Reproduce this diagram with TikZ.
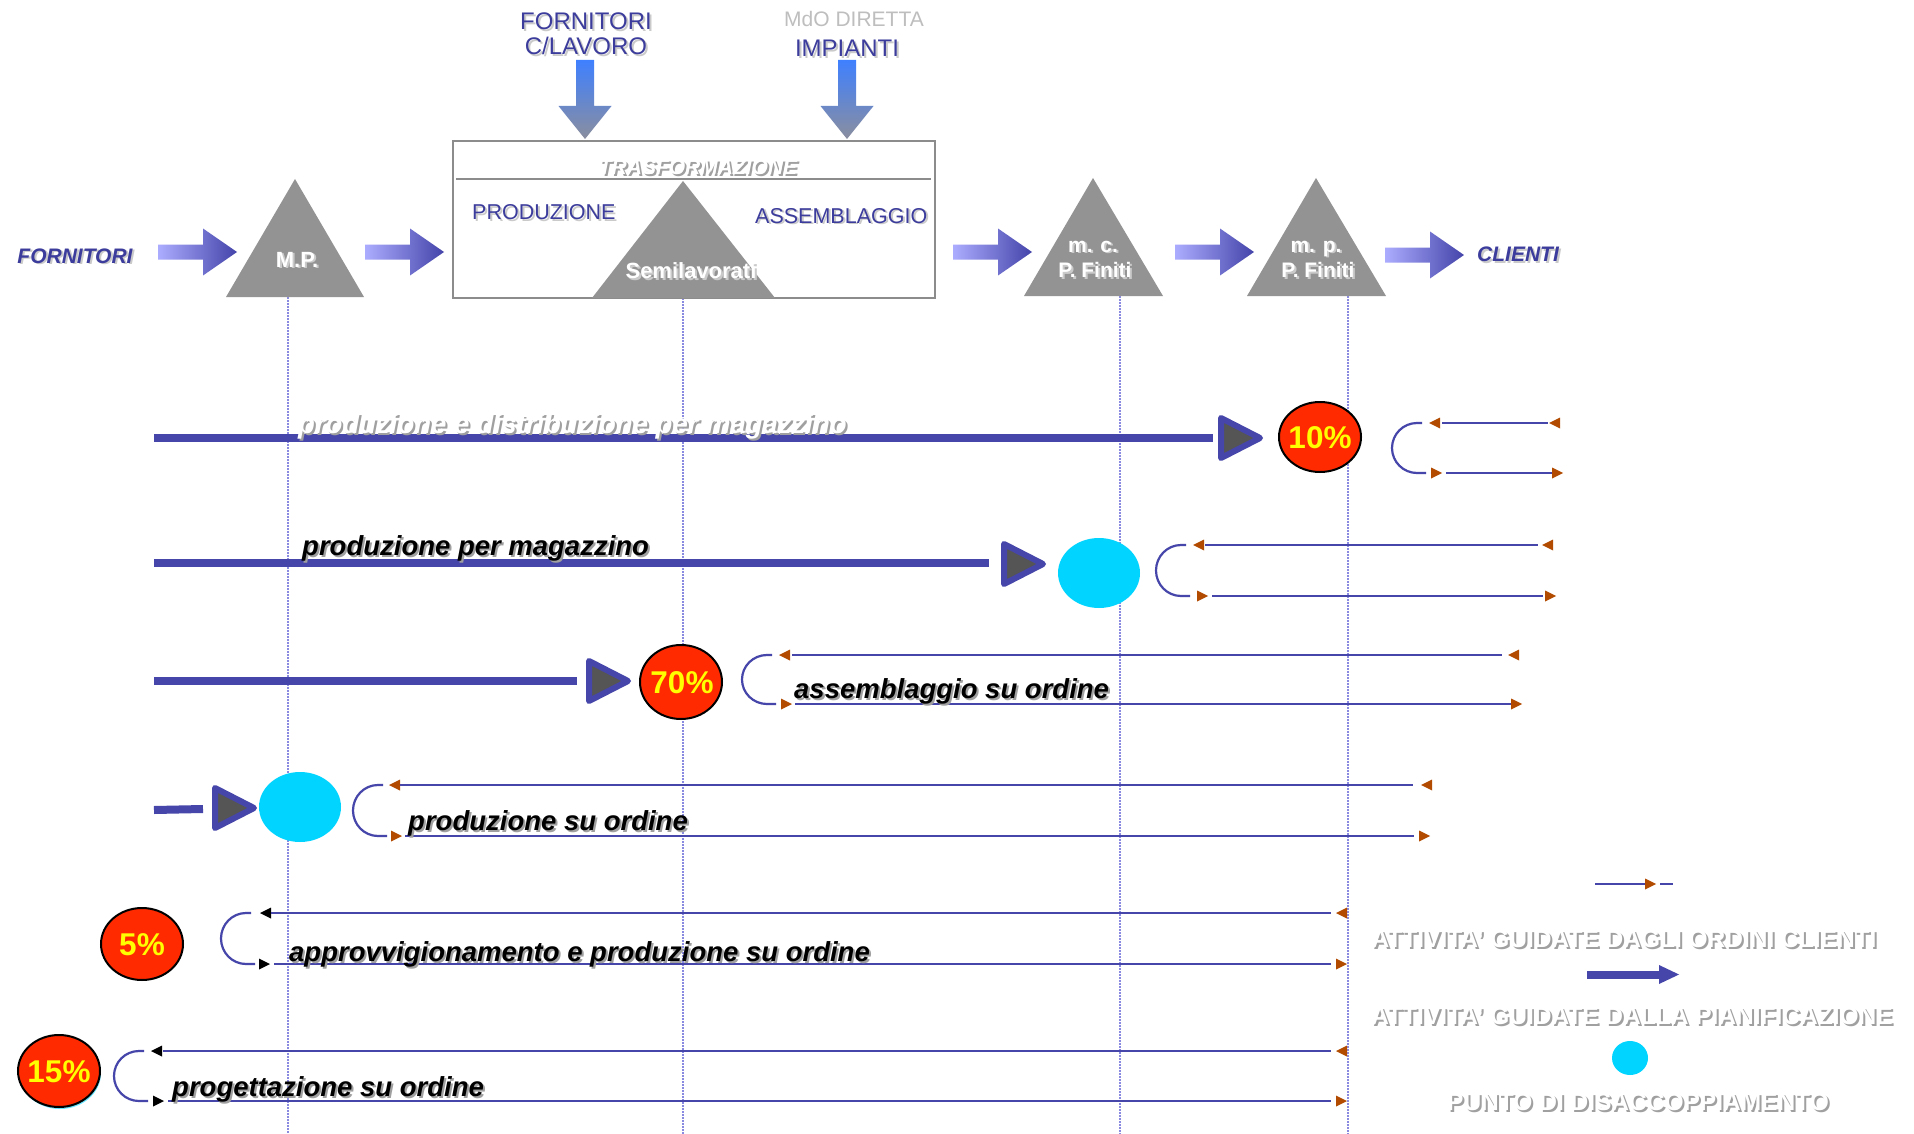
\documentclass[tikz,border=0pt]{standalone}
\usepackage{fontspec}
\setmainfont{Liberation Sans}
\usetikzlibrary{shapes.geometric}

\definecolor{lineblue}{HTML}{4646AA}
\definecolor{textblue}{HTML}{3C3C9C}
\definecolor{stockgrey}{HTML}{939393}
\definecolor{tipbrown}{HTML}{B24A00}
\definecolor{pctred}{HTML}{FF2A00}
\definecolor{pctyellow}{HTML}{FFFF00}
\definecolor{decoupcyan}{HTML}{00D4FF}
\definecolor{guidecol}{HTML}{8A8AE0}
\definecolor{shadowgrey}{HTML}{A0A0A0}
\definecolor{softshadow}{HTML}{CACACA}
\definecolor{flowlight}{HTML}{ACACFF}
\definecolor{flowdark}{HTML}{4444AA}
\definecolor{inblue}{HTML}{3F80FF}
\definecolor{ingrey}{HTML}{8A8E9E}
\definecolor{tipgrey}{HTML}{555555}
\definecolor{boxgrey}{HTML}{8C8C8C}
\definecolor{mdogrey}{HTML}{BEBEBE}

% font size given in picture units (1 unit = 1pt)
\newcommand\pxfont[1]{\fontsize{#1}{#1}\selectfont}
% text with an offset drop shadow: style, shadow colour, name, position, text
\newcommand\shadowtext[5]{%
  \node[#1, text=#2, xshift=2pt, yshift=-2pt] (#3-s) at #4 {#5};
  \node[#1] (#3) at #4 {#5};}
% small arrow tips on the order lines
\newcommand\tipL[3]{\fill[#3] (#1,#2) -- ++(11,-5.5) -- ++(0,11) -- cycle;}
\newcommand\tipR[3]{\fill[#3] (#1,#2) -- ++(-11,-5.5) -- ++(0,11) -- cycle;}
% shaded flow arrow between stock points
\newcommand\flowarrow[2]{\shade[left color=flowlight, right color=flowdark]
  (#1,{#2-7.5}) -- ({#1+45},{#2-7.5}) -- ({#1+45},{#2-23.5}) -- ({#1+79},#2)
  -- ({#1+45},{#2+23.5}) -- ({#1+45},{#2+7.5}) -- (#1,{#2+7.5}) -- cycle;}
% shaded input arrow into the transformation box
\newcommand\inarrow[1]{\shade[top color=inblue, bottom color=ingrey]
  ({#1-9},60) -- ({#1+9},60) -- ({#1+9},106) -- ({#1+26.5},106) -- (#1,139)
  -- ({#1-26.5},106) -- ({#1-9},106) -- cycle;}
% head of a planning-driven line
\newcommand\planhead[2]{\filldraw[fill=tipgrey, draw=lineblue, line width=6pt, line join=round]
  ({#1+3},{#2-20}) -- ({#1+3},{#2+20}) -- ({#1+42},#2) -- cycle;}
% return bend of an order loop: left x, top y, bottom y, half height
\newcommand\loopbend[4]{\draw[order] ({#1+30},#2) -- ({#1+25},#2)
  arc[start angle=90, end angle=270, x radius=25pt, y radius=#4] -- ({#1+34},#3);}

\tikzset{
  guide/.style={draw=guidecol, line width=1.2pt, dash pattern=on 1.5pt off 1.5pt},
  plan/.style={draw=lineblue, line width=8pt},
  order/.style={draw=lineblue, line width=2.2pt},
  stock/.style={fill=stockgrey},
  pctdisc/.style={draw=black, line width=2pt, fill=pctred},
  pcttext/.style={inner sep=0pt, text=pctyellow, font=\pxfont{31.5}\bfseries},
  rowlab/.style={inner sep=0pt, anchor=base west, font=\pxfont{27.5}\bfseries\itshape, text=black},
  legendlab/.style={inner sep=0pt, anchor=base, font=\pxfont{24.5}\bfseries, text=white},
  toplab/.style={inner sep=0pt, anchor=base, font=\pxfont{24}, text=textblue},
  stocklab/.style={inner sep=0pt, anchor=base, font=\pxfont{21}\bfseries, text=white},
  endlab/.style={inner sep=0pt, anchor=base, font=\pxfont{21}\bfseries\itshape, text=textblue},
  phaselab/.style={inner sep=0pt, anchor=base west, font=\pxfont{21.5}, text=textblue},
}

\begin{document}
\begin{tikzpicture}[x=1pt, y=-1pt]
\useasboundingbox (0,0) rectangle (1914,1134);
\fill[white] (0,0) rectangle (1914,1134);

% vertical guides below the stock points
\draw[guide] (288,297) -- (288,1134);
\draw[guide] (683,298) -- (683,1134);
\draw[guide] (1120,296) -- (1120,1134);
\draw[guide] (1348,296) -- (1348,1134);

% ---------- supply chain ----------
\shadowtext{toplab}{softshadow}{supw1}{(586,30)}{FORNITORI}
\shadowtext{toplab}{softshadow}{supw2}{(586,55)}{C/LAVORO}
\node[toplab, font=\pxfont{21}, text=mdogrey] (mdo) at (854,27) {MdO DIRETTA};
\shadowtext{toplab}{softshadow}{plant}{(847,57)}{IMPIANTI}
\inarrow{585}
\inarrow{847}

% transformation box
\draw[boxgrey, line width=2.5pt] (453,141) rectangle (935,298);
\draw[boxgrey, line width=2pt] (456,179) -- (931,179);
\shadowtext{inner sep=0pt, anchor=base, font=\pxfont{21}\bfseries\itshape, text=white}{shadowgrey}{trasf}{(698,175)}{TRASFORMAZIONE}
\shadowtext{phaselab}{softshadow}{prod}{(472,220)}{PRODUZIONE}
\shadowtext{phaselab}{softshadow}{assy}{(755,223)}{ASSEMBLAGGIO}

% stock triangles
\fill[stock] (295,179) -- (364,297) -- (226,297) -- cycle;
\fill[stock] (683,181) -- (775,298) -- (592,298) -- cycle;
\fill[stock] (1093,178) -- (1163,296) -- (1024,296) -- cycle;
\fill[stock] (1316,178) -- (1386,296) -- (1247,296) -- cycle;
\shadowtext{stocklab, font=\pxfont{22}\bfseries}{softshadow}{mp}{(297,267)}{M.P.}
\shadowtext{stocklab, font=\pxfont{22}\bfseries}{softshadow}{semi}{(691,278)}{Semilavorati}
\shadowtext{stocklab}{softshadow}{mc1}{(1093,252)}{m. c.}
\shadowtext{stocklab}{softshadow}{mc2}{(1095,277)}{P. Finiti}
\shadowtext{stocklab}{softshadow}{mpf1}{(1316,252)}{m. p.}
\shadowtext{stocklab}{softshadow}{mpf2}{(1318,277)}{P. Finiti}

% flow arrows
\shadowtext{endlab}{softshadow}{suppl}{(75,263)}{FORNITORI}
\flowarrow{158}{252}
\flowarrow{365}{252}
\flowarrow{953}{252}
\flowarrow{1175}{252}
\flowarrow{1385}{255}
\shadowtext{endlab}{softshadow}{clients}{(1518,261)}{CLIENTI}

% ---------- row 1: make and distribute to stock ----------
\draw[plan] (154,438) -- (1213,438);
\planhead{1218}{438}
\draw[pctdisc] (1320,437) ellipse [x radius=41pt, y radius=35pt];
\node[pcttext] (p10) at (1320,438) {10\%};
\shadowtext{rowlab, text=white}{shadowgrey}{row1}{(298,433)}{produzione e distribuzione per magazzino}
\loopbend{1392}{423}{473}{25pt}
\tipL{1429}{423}{tipbrown}
\draw[order] (1442,423) -- (1548,423);
\tipL{1549}{423}{tipbrown}
\tipR{1442}{473}{tipbrown}
\draw[order] (1446,473) -- (1552,473);
\tipR{1563}{473}{tipbrown}

% ---------- row 2: make to stock ----------
\draw[plan] (154,563) -- (989,563);
\planhead{1001}{564}
\fill[decoupcyan] (1099,573) ellipse [x radius=41pt, y radius=35pt];
\shadowtext{rowlab}{shadowgrey}{row2}{(302,555)}{produzione per magazzino}
\loopbend{1156}{545}{596}{25.5pt}
\tipL{1193}{545}{tipbrown}
\draw[order] (1205,545) -- (1538,545);
\tipL{1542}{545}{tipbrown}
\tipR{1208}{596}{tipbrown}
\draw[order] (1212,596) -- (1543,596);
\tipR{1556}{596}{tipbrown}

% ---------- row 3: assemble to order ----------
\draw[plan] (154,681) -- (577,681);
\planhead{586}{681}
\draw[pctdisc] (681,682) ellipse [x radius=41pt, y radius=37pt];
\node[pcttext] (p70) at (682,683) {70\%};
\loopbend{742}{655}{704}{24.5pt}
\tipL{779}{655}{tipbrown}
\draw[order] (792,655) -- (1502,655);
\tipL{1508}{655}{tipbrown}
\tipR{792}{704}{tipbrown}
\draw[order] (795,704) -- (1511,704);
\tipR{1522}{704}{tipbrown}
\shadowtext{rowlab}{shadowgrey}{row3}{(794,698)}{assemblaggio su ordine}

% ---------- row 4: make to order ----------
\draw[plan] (154,810) -- (203,809);
\planhead{212}{808}
\fill[decoupcyan] (300,807) ellipse [x radius=41pt, y radius=35pt];
\loopbend{353}{785}{836}{25.5pt}
\tipL{389}{785}{tipbrown}
\draw[order] (400,785) -- (1413,785);
\tipL{1421}{785}{tipbrown}
\tipR{402}{836}{tipbrown}
\draw[order] (405,836) -- (1414,836);
\tipR{1430}{836}{tipbrown}
\shadowtext{rowlab}{shadowgrey}{row4}{(408,830)}{produzione su ordine}

% ---------- row 5: purchase and make to order ----------
\draw[pctdisc] (142,944) ellipse [x radius=41pt, y radius=36pt];
\node[pcttext] (p5) at (142,945) {5\%};
\loopbend{221}{913}{964}{25.5pt}
\tipL{260}{913}{black}
\draw[order] (271,913) -- (1331,913);
\tipL{1336}{913}{tipbrown}
\tipR{270}{964}{black}
\draw[order] (274,964) -- (1331,964);
\tipR{1347}{964}{tipbrown}
\shadowtext{rowlab}{shadowgrey}{row5}{(289,961)}{approvvigionamento e produzione su ordine}

% ---------- row 6: engineer to order ----------
\fill[decoupcyan!60] (60,1073) ellipse [x radius=41pt, y radius=36pt];
\draw[pctdisc] (59,1071) ellipse [x radius=41pt, y radius=36pt];
\node[pcttext] (p15) at (59,1072) {15\%};
\loopbend{114}{1051}{1101}{25pt}
\tipL{151}{1051}{black}
\draw[order] (163,1051) -- (1331,1051);
\tipL{1336}{1051}{tipbrown}
\tipR{164}{1101}{black}
\draw[order] (168,1101) -- (1331,1101);
\tipR{1347}{1101}{tipbrown}
\shadowtext{rowlab}{shadowgrey}{row6}{(172,1096)}{progettazione su ordine}

% ---------- legend ----------
\draw[order] (1595,884) -- (1645,884);
\tipR{1656}{884}{tipbrown}
\draw[order] (1660,884) -- (1673,884);
\shadowtext{legendlab}{shadowgrey}{leg1}{(1624,947)}{ATTIVITA' GUIDATE DAGLI ORDINI CLIENTI}
\draw[lineblue, line width=8pt] (1587,974.5) -- (1661,974.5);
\fill[lineblue] (1659,965) -- (1679,974.5) -- (1659,984) -- cycle;
\shadowtext{legendlab}{shadowgrey}{leg2}{(1632,1024)}{ATTIVITA' GUIDATE DALLA PIANIFICAZIONE}
\fill[decoupcyan] (1630,1058) ellipse [x radius=18pt, y radius=17pt];
\shadowtext{legendlab}{shadowgrey}{leg3}{(1638,1110)}{PUNTO DI DISACCOPPIAMENTO}
\end{tikzpicture}
\end{document}
